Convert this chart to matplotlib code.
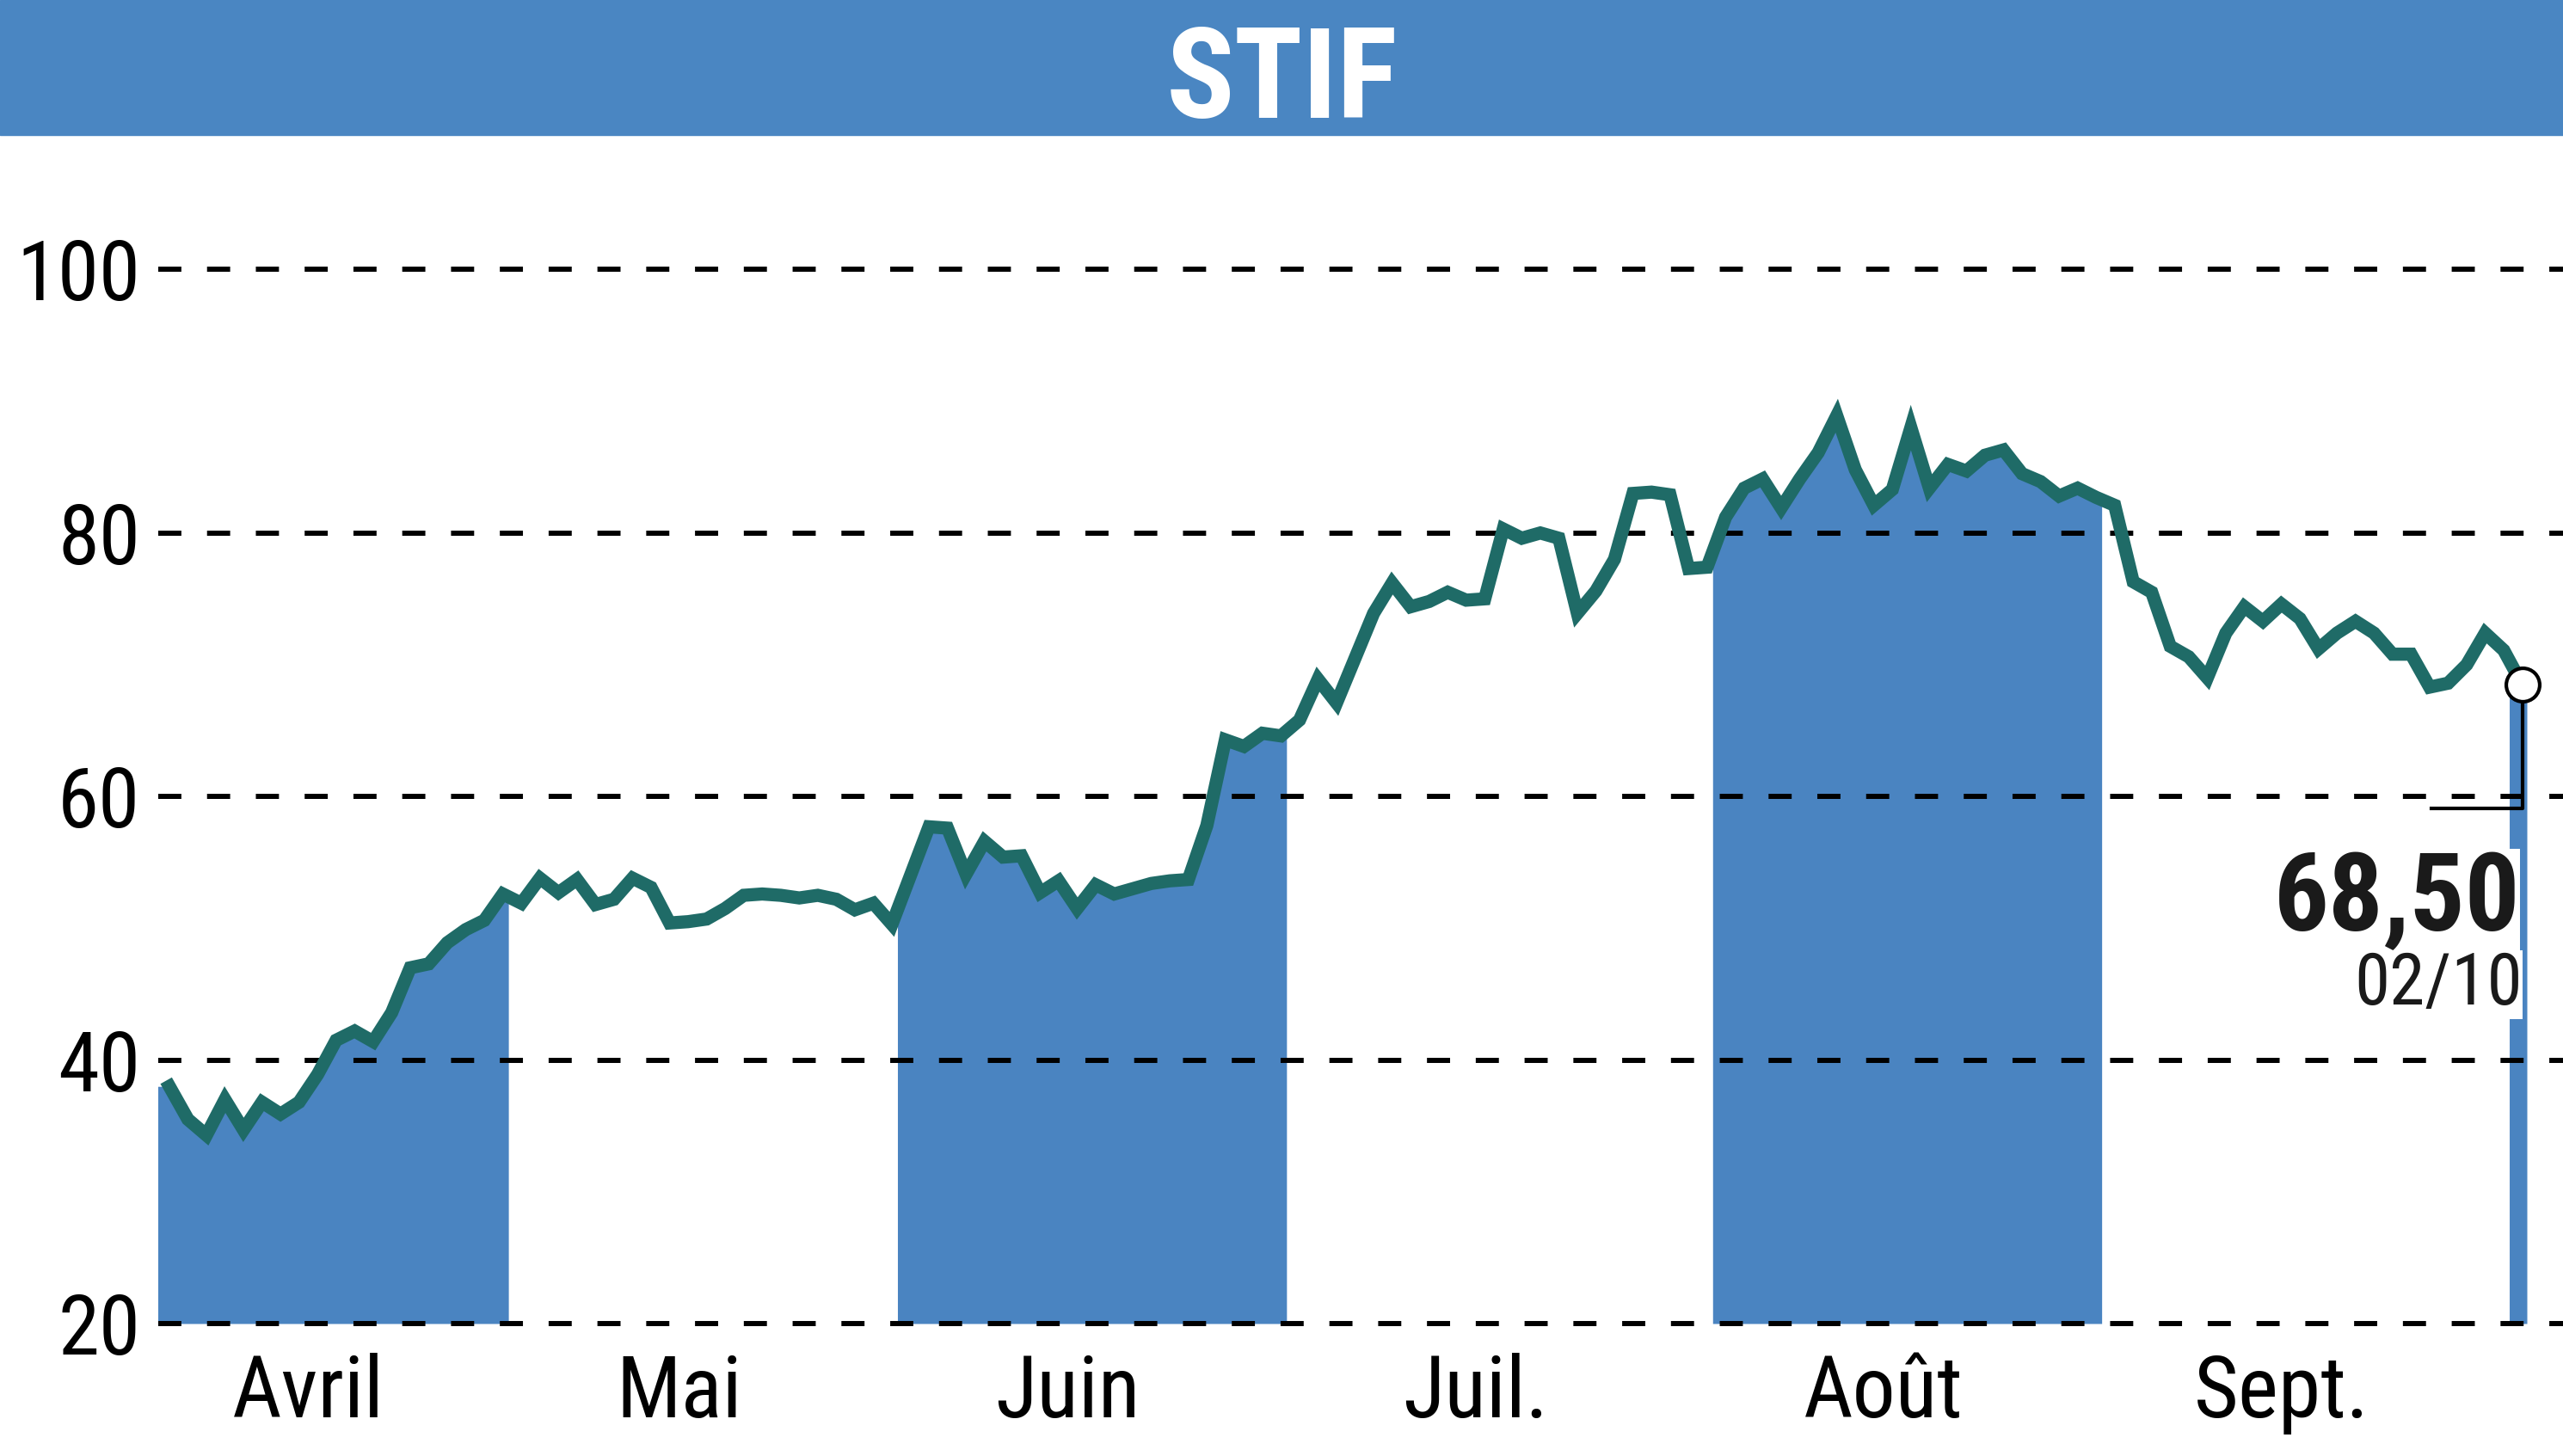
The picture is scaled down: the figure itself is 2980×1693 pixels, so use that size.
import os
import numpy as np
import matplotlib.pyplot as plt
from matplotlib.patches import Rectangle
from matplotlib import font_manager as fm

title = 'STIF'
# one close per trading session, from early April to 02/10
prices = [38.0, 35.5, 34.3, 37.0, 34.7, 36.8, 35.9, 36.8, 38.9, 41.5,
          42.2, 41.4, 43.6, 47.0, 47.3, 48.9, 49.9, 50.6, 52.6,
          51.9, 53.8, 52.7, 53.7, 51.8, 52.2, 53.8, 53.1, 50.4, 50.5,
          50.7, 51.5, 52.5, 52.6, 52.5, 52.3, 52.5, 52.2, 51.4, 51.9, 50.3,
          54.0, 57.7, 57.6, 54.1, 56.6, 55.4, 55.5, 52.7, 53.6, 51.5,
          53.3, 52.6, 53.0, 53.4, 53.6, 53.7, 57.8, 64.3, 63.8, 64.8, 64.6,
          65.8, 68.9, 67.1, 70.5, 73.9, 76.2, 74.4, 74.8, 75.5, 74.9,
          75.0, 80.3, 79.6, 80.0, 79.6, 73.9, 75.6, 78.0, 83.0, 83.1,
          82.9, 77.3, 77.4,
          81.2, 83.4, 84.1, 81.9, 84.1, 86.1, 88.9, 84.8, 82.1, 83.3,
          88.0, 83.4, 85.2, 84.7, 85.9, 86.3, 84.5, 83.9, 82.8, 83.4, 82.7,
          82.1, 76.3, 75.5, 71.4, 70.6, 69.0, 72.4, 74.4, 73.3, 74.6,
          73.5, 71.2, 72.4, 73.3, 72.4, 70.8, 70.8, 68.3, 68.6, 70.0,
          72.4, 71.1,
          68.5]
months = ['Avril', 'Mai', 'Juin', 'Juil.', 'Août', 'Sept.', 'Oct.']
month_starts = [0, 19, 40, 61, 84, 105, 127]
yticks = [20, 40, 60, 80, 100]
last_label = '68,50'
last_date = '02/10'

blue = '#4A84C1'
teal = '#1F6B67'


# the original uses a condensed face; take the narrowest one installed
def pick_font(patterns, fallback_weight):
    files = [f.fname for f in fm.fontManager.ttflist]
    for p in patterns:
        for f in files:
            if os.path.basename(f).lower().startswith(p.lower()):
                return fm.FontProperties(fname=f)
    return fm.FontProperties(family='DejaVu Sans', stretch='condensed',
                             weight=fallback_weight)


fp = pick_font(['NotoSans-ExtraCondensed.', 'LiberationSansNarrow-Regular',
                'NotoSans-Condensed.', 'RobotoCondensed-Regular',
                'OpenSans-CondensedRegular', 'DejaVuSansCondensed.'], 'normal')
fpb = pick_font(['NotoSans-ExtraCondensedBold', 'LiberationSansNarrow-Bold.',
                 'NotoSans-CondensedBold', 'RobotoCondensed-Bold',
                 'OpenSans-CondensedBold', 'DejaVuSansCondensed-Bold'], 'bold')

x = np.arange(len(prices))
y = np.array(prices)

fig = plt.figure(figsize=(29.8, 16.93), dpi=100)
fig.patches.append(Rectangle((0, 1 - 157 / 1693), 1, 157 / 1693,
                             transform=fig.transFigure, color='#4A86C2', zorder=0))
fig.text(0.5, 1 - 137 / 1693, title, ha='center', va='baseline', color='white',
         fontproperties=fpb, fontsize=106)

ax = fig.add_axes([184 / 2980, 154 / 1693, 1 - 184 / 2980, 1382 / 1693])
ax.set_xlim(-0.6, 129.2)
ax.set_ylim(20, 110.2)

# month bands, every other month shaded
edges = [s - 0.7 for s in month_starts] + [len(prices) - 0.75]
for k, name in enumerate(months):
    left, right = edges[k], edges[k + 1]
    if k % 2 == 0:
        inside = x[(x > left) & (x < right)]
        xb = np.concatenate([[left], inside, [right]])
        yb = np.interp(xb, x, y)
        ax.fill_between(xb, 20, yb, color=blue, lw=0, zorder=1)
    if k < 6:
        ax.text((left + right) / 2 - 1.3, 12.9, name, ha='center', va='baseline',
                fontproperties=fp, fontsize=72, clip_on=False)

for v in yticks:
    ax.axhline(v, color='black', lw=4.3, dashes=(4.5, 5.0), zorder=2, clip_on=False)

ax.plot(x, y, color=teal, lw=11, solid_joinstyle='miter', zorder=3)

# last value marker and label
ax.plot([x[-1], x[-1], x[-1] - 4.9], [y[-1], 59.1, 59.1], color='black', lw=3, zorder=4)
ax.plot(x[-1], y[-1], 'o', ms=28, mfc='white', mec='black', mew=3, zorder=5)
ax.text(x[-1] - 0.1, 49.8, last_label, ha='right', va='baseline',
        fontproperties=fpb, fontsize=91, color='#1a1a1a', zorder=6,
        bbox=dict(facecolor='white', edgecolor='none', pad=0))
ax.text(x[-1], 44.2, last_date, ha='right', va='baseline',
        fontproperties=fp, fontsize=60, color='#1a1a1a', zorder=6,
        bbox=dict(facecolor='white', edgecolor='none', pad=0))

ax.set_yticks(yticks)
ax.set_yticklabels([str(v) for v in yticks], fontproperties=fp, fontsize=70)
ax.tick_params(axis='y', length=0, pad=15)
ax.set_xticks([])
for s in ax.spines.values():
    s.set_visible(False)

fig.savefig('out.png', dpi=100)
